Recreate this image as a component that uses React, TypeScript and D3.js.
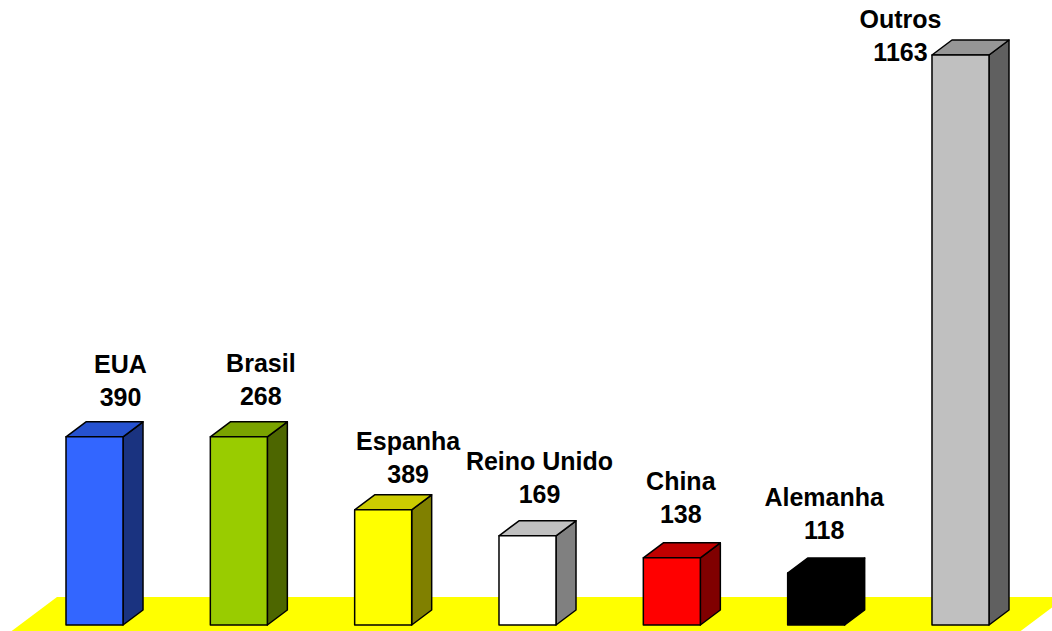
import React from "react";
import * as d3 from "d3";

const categories = ["EUA", "Brasil", "Espanha", "Reino Unido", "China", "Alemanha", "Outros"];
// bar heights as drawn in the picture (same units as the labels' scale)
const heights = [384, 384, 235, 182, 137, 106, 1163];
// numbers printed above the bars
const labelValues = [390, 268, 389, 169, 138, 118, 1163];
const frontColors = ["#3366FF", "#99CC00", "#FFFF00", "#FFFFFF", "#FF0000", "#000000", "#C0C0C0"];
const topColors = ["#2652D0", "#7AA300", "#CCCC00", "#C0C0C0", "#C00000", "#000000", "#969696"];
const sideColors = ["#1A3380", "#4D6600", "#808000", "#808080", "#800000", "#000000", "#606060"];

// label layout (manual placement in the original)
const labelDx = [26, 22, 25, 12, 9, 8, -60];
const labelGap = [16, 17, 12, 18, 20, 19, -21];

const W = 1052;
const H = 631;
const DX = 20;
const DY = 15;
const BASE = 625;

export default function App() {
  const x = d3.scaleBand<string>().domain(categories).range([66, 989]).paddingInner(0.605).paddingOuter(0);
  const y = d3.scaleLinear().domain([0, 1163]).range([BASE, 55]);
  const bw = x.bandwidth();
  const floorBack = 597;
  const floorFront = 660;
  const slope = DX / DY;
  const fl = 57, fr = 1066;
  const floorPts = [
    [fl, floorBack],
    [fr, floorBack],
    [fr - (floorFront - floorBack) * slope, floorFront],
    [fl - (floorFront - floorBack) * slope, floorFront],
  ];
  const font = "'Liberation Sans', Arial, sans-serif";
  return (
    <svg width={W} height={H} style={{ position: "absolute", left: 0, top: 0, background: "#fff" }}>
      <polygon points={floorPts.map((p) => p.join(",")).join(" ")} fill="#FFFF00" />
      {categories.map((c, i) => {
        const x0 = x(c)!;
        const x1 = x0 + bw;
        const yt = y(heights[i]);
        const front = `${x0},${yt} ${x1},${yt} ${x1},${BASE} ${x0},${BASE}`;
        const top = `${x0},${yt} ${x0 + DX},${yt - DY} ${x1 + DX},${yt - DY} ${x1},${yt}`;
        const side = `${x1},${yt} ${x1 + DX},${yt - DY} ${x1 + DX},${BASE - DY} ${x1},${BASE}`;
        const cx = x0 + bw / 2 + labelDx[i];
        const numY = yt - DY - labelGap[i];
        return (
          <g key={c}>
            <polygon points={side} fill={sideColors[i]} stroke="#000" strokeWidth={1.5} strokeLinejoin="round" />
            <polygon points={top} fill={topColors[i]} stroke="#000" strokeWidth={1.5} strokeLinejoin="round" />
            <polygon points={front} fill={frontColors[i]} stroke="#000" strokeWidth={1.5} strokeLinejoin="round" />
            <text x={cx} y={numY - 33} textAnchor="middle" fontFamily={font} fontWeight="bold" fontSize={25} fill="#000">
              {c}
            </text>
            <text x={cx} y={numY} textAnchor="middle" fontFamily={font} fontWeight="bold" fontSize={25} fill="#000">
              {labelValues[i]}
            </text>
          </g>
        );
      })}
    </svg>
  );
}
